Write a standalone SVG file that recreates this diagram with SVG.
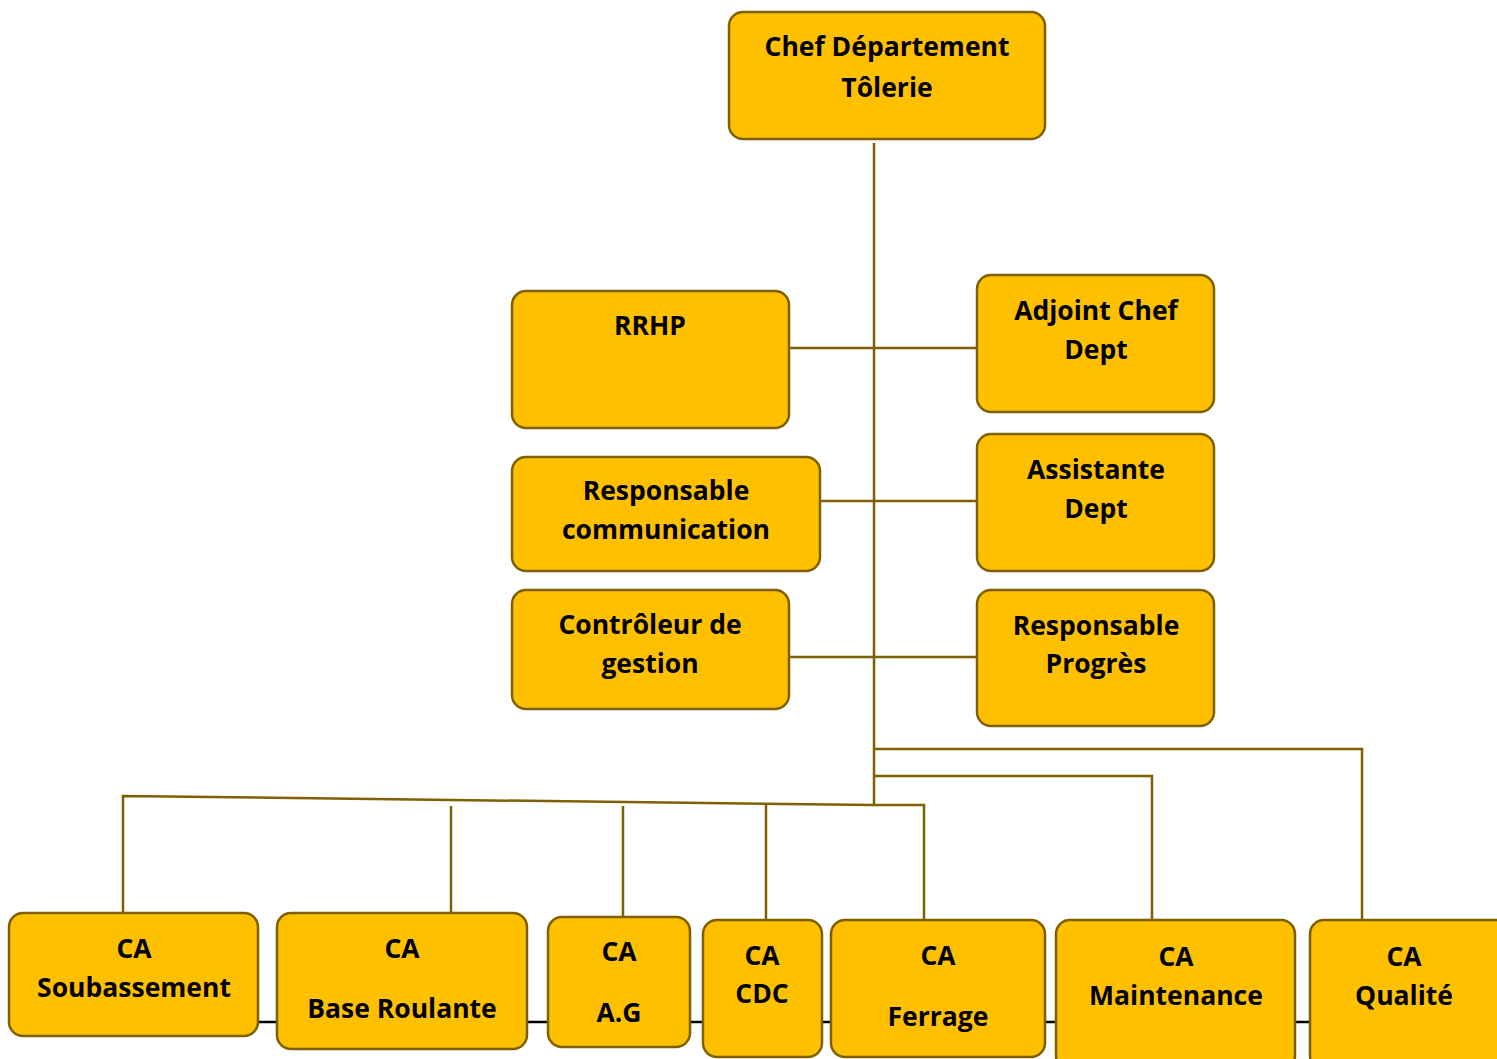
<svg xmlns="http://www.w3.org/2000/svg" width="1497" height="1059" viewBox="0 0 1497 1059">
<style>
.box{fill:#FFC000;stroke:#7F6000;stroke-width:2.5}
.t{font-family:"Open Sans","Noto Sans","Liberation Sans",sans-serif;font-weight:bold;font-size:26.5px;fill:#000;text-anchor:middle}
.c{fill:none;stroke:#7F6000;stroke-width:2.5}
</style>
<rect width="1497" height="1059" fill="#fff"/>
<g id="connectors">
<line x1="258" y1="1022" x2="1310" y2="1022" stroke="#000" stroke-width="2.5"/>
<path class="c" d="M874 143 V806"/>
<path class="c" d="M789 348 H977"/>
<path class="c" d="M820 501 H977"/>
<path class="c" d="M789 657 H977"/>
<path class="c" d="M874 749 H1362 V920"/>
<path class="c" d="M874 776 H1152 V920"/>
<path class="c" d="M123 912 V796 L874 805 H924 V920"/>
<path class="c" d="M451 806 V920"/>
<path class="c" d="M623 806 V920"/>
<path class="c" d="M766 805 V920"/>
</g>
<g id="chef"><rect class="box" x="729" y="12" width="316" height="127" rx="14"/>
<text class="t" x="887" y="56">Chef Département</text><text class="t" x="887" y="97">Tôlerie</text></g>
<g id="rrhp"><rect class="box" x="512" y="291" width="277" height="137" rx="14"/>
<text class="t" x="650" y="335">RRHP</text></g>
<g id="adjoint"><rect class="box" x="977" y="275" width="237" height="137" rx="14"/>
<text class="t" x="1096" y="320">Adjoint Chef</text><text class="t" x="1096" y="359">Dept</text></g>
<g id="respcom"><rect class="box" x="512" y="457" width="308" height="114" rx="14"/>
<text class="t" x="666" y="500">Responsable</text><text class="t" x="666" y="539">communication</text></g>
<g id="assistante"><rect class="box" x="977" y="434" width="237" height="137" rx="14"/>
<text class="t" x="1096" y="479">Assistante</text><text class="t" x="1096" y="518">Dept</text></g>
<g id="controleur"><rect class="box" x="512" y="590" width="277" height="119" rx="14"/>
<text class="t" x="650" y="634">Contrôleur de</text><text class="t" x="650" y="673">gestion</text></g>
<g id="progres"><rect class="box" x="977" y="590" width="237" height="136" rx="14"/>
<text class="t" x="1096" y="635">Responsable</text><text class="t" x="1096" y="673">Progrès</text></g>
<g id="soubassement"><rect class="box" x="9" y="913" width="249" height="123" rx="14"/>
<text class="t" x="134" y="958">CA</text><text class="t" x="134" y="997">Soubassement</text></g>
<g id="baseroulante"><rect class="box" x="277" y="913" width="250" height="136" rx="14"/>
<text class="t" x="402" y="958">CA</text><text class="t" x="402" y="1018">Base Roulante</text></g>
<g id="ag"><rect class="box" x="548" y="917" width="142" height="130" rx="14"/>
<text class="t" x="619" y="961">CA</text><text class="t" x="619" y="1022">A.G</text></g>
<g id="cdc"><rect class="box" x="703" y="920" width="119" height="137" rx="14"/>
<text class="t" x="762" y="965">CA</text><text class="t" x="762" y="1003">CDC</text></g>
<g id="ferrage"><rect class="box" x="831" y="920" width="214" height="137" rx="14"/>
<text class="t" x="938" y="965">CA</text><text class="t" x="938" y="1026">Ferrage</text></g>
<g id="maintenance"><rect class="box" x="1056" y="920" width="239" height="150" rx="14"/>
<text class="t" x="1176" y="966">CA</text><text class="t" x="1176" y="1005">Maintenance</text></g>
<g id="qualite"><rect class="box" x="1310" y="920" width="200" height="150" rx="14"/>
<text class="t" x="1404" y="966">CA</text><text class="t" x="1404" y="1005">Qualité</text></g>
</svg>
